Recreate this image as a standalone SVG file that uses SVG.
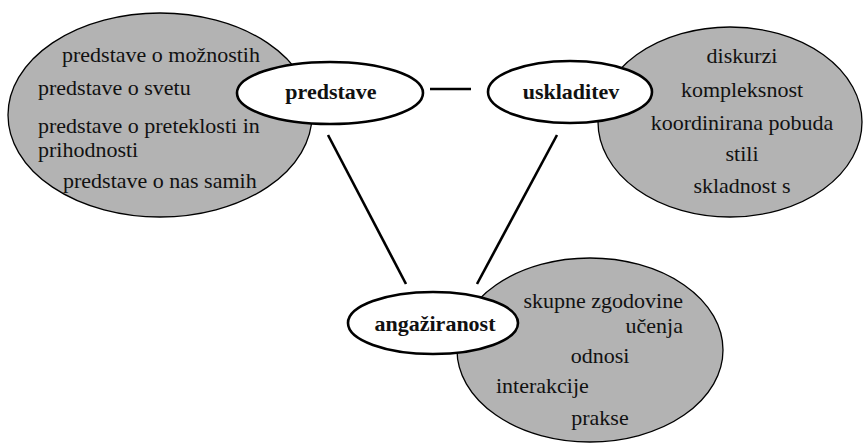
<svg xmlns="http://www.w3.org/2000/svg" width="864" height="443" viewBox="0 0 864 443">
  <style>
    .cloud { fill: #b3b3b3; stroke: #000; stroke-width: 1.3; }
    .core { fill: #fff; stroke: #000; stroke-width: 2.6; }
    text { font-family: 'Liberation Serif', 'Tinos', 'Times New Roman', 'DejaVu Serif', serif; font-size: 22px; fill: #111; }
    .label { font-weight: bold; text-anchor: middle; }
    .link { stroke: #000; stroke-width: 2.6; fill: none; }
  </style>
  <rect width="864" height="443" fill="#fff"/>

  <!-- detail clouds behind the core nodes -->
  <g id="cloud-predstave">
    <ellipse class="cloud" cx="160" cy="115" rx="152" ry="102"/>
    <text x="62" y="62">predstave o možnostih</text>
    <text x="38" y="95">predstave o svetu</text>
    <text x="38" y="133">predstave o preteklosti in</text>
    <text x="38" y="157">prihodnosti</text>
    <text x="63" y="188">predstave o nas samih</text>
  </g>

  <g id="cloud-uskladitev">
    <ellipse class="cloud" cx="730" cy="122" rx="132" ry="95"/>
    <g text-anchor="middle">
      <text x="742" y="63">diskurzi</text>
      <text x="742" y="97">kompleksnost</text>
      <text x="742" y="130">koordinirana pobuda</text>
      <text x="742" y="161">stili</text>
      <text x="742" y="193">skladnost s</text>
    </g>
  </g>

  <g id="cloud-angaziranost">
    <ellipse class="cloud" cx="590" cy="350" rx="133" ry="92"/>
    <text x="683" y="308" text-anchor="end">skupne zgodovine</text>
    <text x="683" y="333" text-anchor="end">učenja</text>
    <text x="600" y="363" text-anchor="middle">odnosi</text>
    <text x="496" y="393">interakcije</text>
    <text x="600" y="425" text-anchor="middle">prakse</text>
  </g>

  <!-- connectors between the three core nodes -->
  <g id="connectors">
    <line class="link" x1="430" y1="89" x2="471" y2="89"/>
    <line class="link" x1="328" y1="135" x2="406" y2="284"/>
    <line class="link" x1="557" y1="135" x2="477" y2="284"/>
  </g>

  <!-- core nodes -->
  <g id="node-predstave">
    <ellipse class="core" cx="330" cy="93" rx="93" ry="31"/>
    <text class="label" x="331" y="99">predstave</text>
  </g>
  <g id="node-uskladitev">
    <ellipse class="core" cx="570" cy="92" rx="82" ry="31"/>
    <text class="label" x="571" y="99">uskladitev</text>
  </g>
  <g id="node-angaziranost">
    <ellipse class="core" cx="433" cy="323" rx="85" ry="31"/>
    <text class="label" x="435" y="331">angažiranost</text>
  </g>
</svg>
